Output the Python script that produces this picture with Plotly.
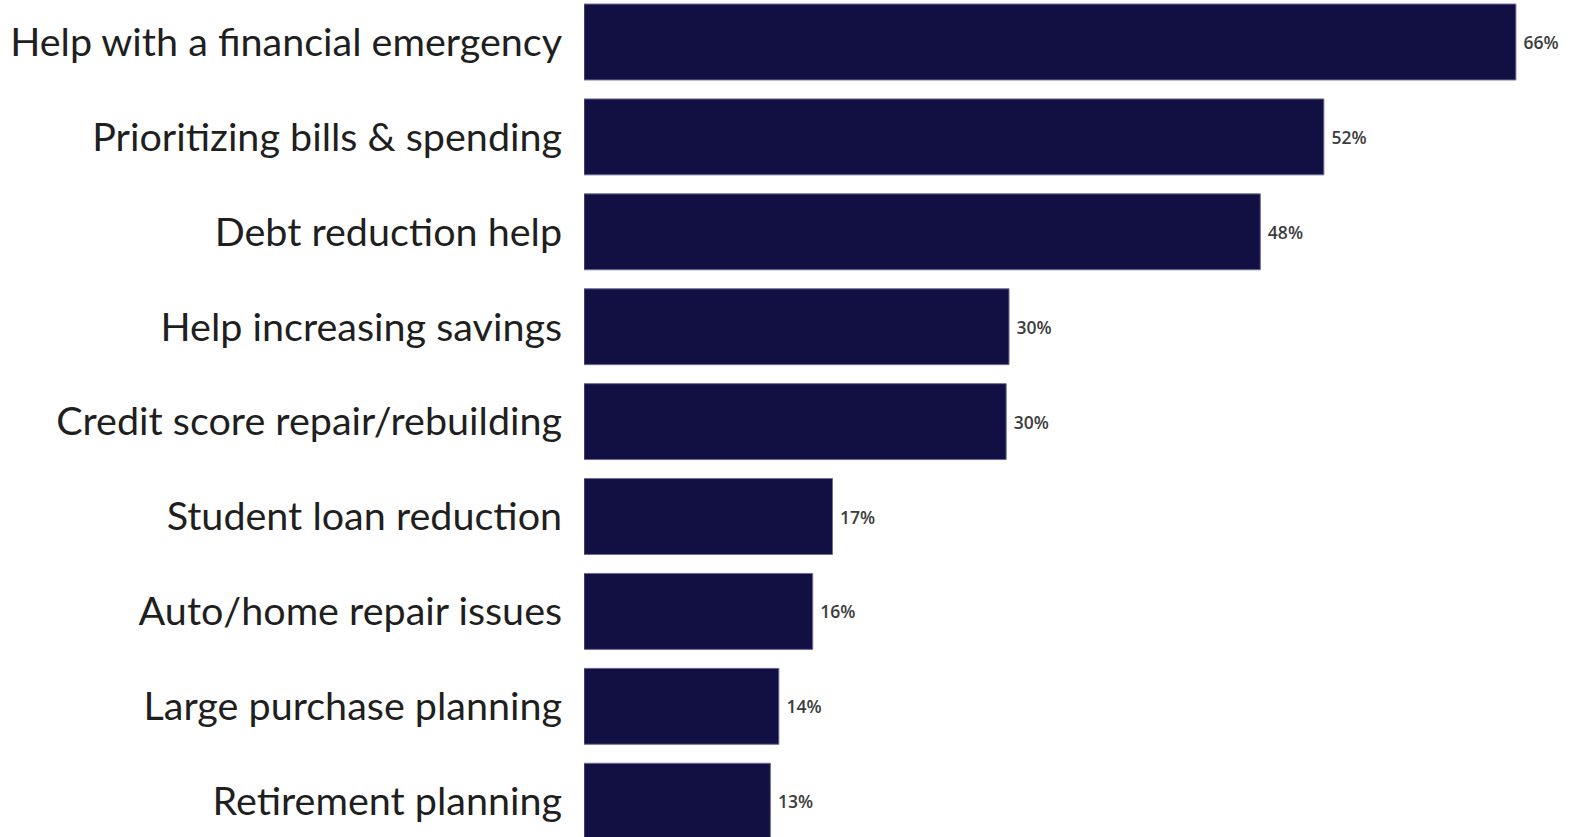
import plotly.graph_objects as go

categories = [
    "Help with a financial emergency",
    "Prioritizing bills & spending",
    "Debt reduction help",
    "Help increasing savings",
    "Credit score repair/rebuilding",
    "Student loan reduction",
    "Auto/home repair issues",
    "Large purchase planning",
    "Retirement planning",
]
values = [66.0, 52.4, 47.9, 30.1, 29.9, 17.6, 16.2, 13.8, 13.2]
value_labels = ["66%", "52%", "48%", "30%", "30%", "17%", "16%", "14%", "13%"]

BAR_COLOR = "#120f43"

fig = go.Figure(
    go.Bar(
        x=values,
        y=categories,
        orientation="h",
        text=[" " + t for t in value_labels],
        textposition="outside",
        cliponaxis=False,
        marker=dict(color=BAR_COLOR, line=dict(color="#6e6c9a", width=1)),
        textfont=dict(family="Open Sans", size=17.5, color="#3d3d3d", weight=600),
    )
)

fig.update_layout(
    width=1579,
    height=837,
    margin=dict(l=584, r=0, t=0, b=0),
    paper_bgcolor="white",
    plot_bgcolor="white",
    bargap=0.2,
    showlegend=False,
    xaxis=dict(range=[0, 70.47], visible=False, fixedrange=True),
    yaxis=dict(
        categoryorder="array",
        categoryarray=categories,
        range=[8.377, -0.4426],
        showgrid=False,
        zeroline=False,
        showline=False,
        ticks="outside",
        ticklen=13,
        tickcolor="rgba(0,0,0,0)",
        tickfont=dict(family="Lato", size=39.5, color="#1f1f1f"),
    ),
)

fig.write_html("out.html")
